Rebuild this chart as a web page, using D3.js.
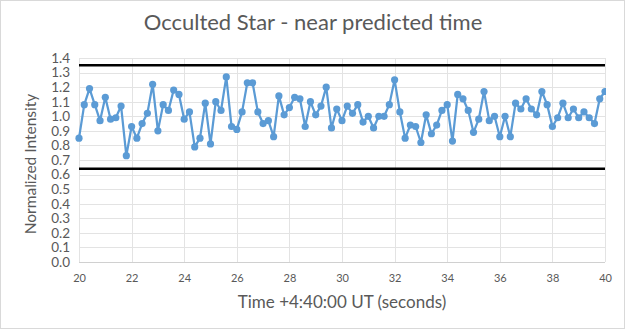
<!DOCTYPE html>
<html>
<head>
<meta charset="utf-8">
<script src="https://cdn.jsdelivr.net/npm/d3@7"></script>
<style>
  html, body { margin: 0; padding: 0; background: #fff; }
  svg { display: block; }
  text { font-family: Lato, "Liberation Sans", sans-serif; fill: #595959; }
</style>
</head>
<body>
<svg id="chart" width="625" height="329"></svg>
<script>
const title = "Occulted Star - near predicted time";
const xTitle = "Time +4:40:00 UT (seconds)";
const yTitle = "Normalized Intensity";
const startTime = 20;
const timeStep = 0.2;
const intensity = [
  0.85, 1.08, 1.19, 1.08, 0.97, 1.13, 0.98, 0.99, 1.07, 0.73,
  0.93, 0.85, 0.95, 1.02, 1.22, 0.90, 1.08, 1.04, 1.18, 1.15,
  0.98, 1.03, 0.79, 0.85, 1.09, 0.81, 1.10, 1.04, 1.27, 0.93,
  0.91, 1.03, 1.23, 1.23, 1.03, 0.95, 0.97, 0.86, 1.14, 1.01,
  1.06, 1.13, 1.12, 0.93, 1.10, 1.01, 1.07, 1.20, 0.92, 1.05,
  0.97, 1.07, 1.02, 1.08, 0.96, 1.00, 0.92, 1.00, 1.00, 1.08,
  1.25, 1.03, 0.85, 0.94, 0.93, 0.82, 1.01, 0.88, 0.94, 1.04,
  1.08, 0.83, 1.15, 1.12, 1.04, 0.89, 0.98, 1.17, 0.97, 1.00,
  0.86, 1.00, 0.86, 1.09, 1.05, 1.12, 1.05, 1.01, 1.17, 1.08,
  0.93, 0.99, 1.09, 0.99, 1.05, 0.99, 1.03, 0.99, 0.95, 1.12,
  1.17
];
const limitLines = [1.35, 0.64];
const xTicks = [20, 22, 24, 26, 28, 30, 32, 34, 36, 38, 40];
const yTicks = [0, 0.1, 0.2, 0.3, 0.4, 0.5, 0.6, 0.7, 0.8, 0.9, 1.0, 1.1, 1.2, 1.3, 1.4];

const data = intensity.map((v, i) => ({ t: startTime + i * timeStep, v }));

const svg = d3.select("#chart");
const W = 625, H = 329;
const m = { left: 79, right: 20, top: 58, bottom: 67 };

svg.append("rect").attr("x", 0.5).attr("y", 0.5).attr("width", W - 1).attr("height", H - 1)
  .attr("fill", "#fff").attr("stroke", "#d9d9d9");

const x = d3.scaleLinear().domain([20, 40]).range([m.left, W - m.right]);
const y = d3.scaleLinear().domain([0, 1.4]).range([H - m.bottom, m.top]);

// horizontal gridlines
svg.append("g").selectAll("line").data(yTicks.filter(d => d > 0)).join("line")
  .attr("x1", x(20)).attr("x2", x(40))
  .attr("y1", d => Math.round(y(d)) + 0.5).attr("y2", d => Math.round(y(d)) + 0.5)
  .attr("stroke", "#e3e3e3").attr("stroke-width", 1);
// vertical gridlines
svg.append("g").selectAll("line").data(xTicks).join("line")
  .attr("y1", y(0)).attr("y2", y(1.4))
  .attr("x1", d => Math.round(x(d)) + 0.5).attr("x2", d => Math.round(x(d)) + 0.5)
  .attr("stroke", "#e3e3e3").attr("stroke-width", 1);
// x axis line
svg.append("line").attr("x1", x(20)).attr("x2", x(40))
  .attr("y1", Math.round(y(0)) + 0.5).attr("y2", Math.round(y(0)) + 0.5)
  .attr("stroke", "#d0d0d0");

// y tick labels
const yAxis = d3.axisLeft(y).tickValues(yTicks).tickFormat(d3.format(".1f")).tickSize(0).tickPadding(9);
const gy = svg.append("g").attr("transform", `translate(${m.left},0)`).call(yAxis);
gy.select(".domain").remove();
gy.selectAll("text").attr("font-size", 13.5).attr("font-family", "Lato, sans-serif").attr("fill", "#595959");

// x tick labels
const xAxis = d3.axisBottom(x).tickValues(xTicks).tickFormat(d3.format("d")).tickSize(0).tickPadding(12);
const gx = svg.append("g").attr("transform", `translate(0,${y(0)})`).call(xAxis);
gx.select(".domain").remove();
gx.selectAll("text").attr("font-size", 11).attr("font-family", "Lato, sans-serif").attr("fill", "#595959");

// limit lines
svg.append("g").selectAll("line").data(limitLines).join("line")
  .attr("x1", x(20)).attr("x2", x(40))
  .attr("y1", d => y(d)).attr("y2", d => y(d))
  .attr("stroke", "#000").attr("stroke-width", 2.5);

// clip
svg.append("clipPath").attr("id", "plotclip").append("rect")
  .attr("x", x(20) - 6).attr("y", y(1.4) - 6).attr("width", x(40) - x(20) + 7).attr("height", y(0) - y(1.4) + 12);

const gs = svg.append("g").attr("clip-path", "url(#plotclip)");
gs.append("path").datum(data)
  .attr("fill", "none").attr("stroke", "#5b9bd5").attr("stroke-width", 2.25).attr("stroke-linejoin", "round")
  .attr("d", d3.line().x(d => x(d.t)).y(d => y(d.v)));
gs.selectAll("circle").data(data).join("circle")
  .attr("cx", d => x(d.t)).attr("cy", d => y(d.v)).attr("r", 3.6)
  .attr("fill", "#5b9bd5");

// titles
svg.append("text").attr("x", 313).attr("y", 30).attr("text-anchor", "middle")
  .attr("font-size", 22).text(title);
svg.append("text").attr("x", (x(20) + x(40)) / 2).attr("y", 308).attr("text-anchor", "middle")
  .attr("font-size", 17).text(xTitle);
svg.append("text").attr("transform", `translate(36,${(y(0) + y(1.4)) / 2 + 4}) rotate(-90)`)
  .attr("text-anchor", "middle").attr("font-size", 15.5).text(yTitle);
</script>
</body>
</html>
